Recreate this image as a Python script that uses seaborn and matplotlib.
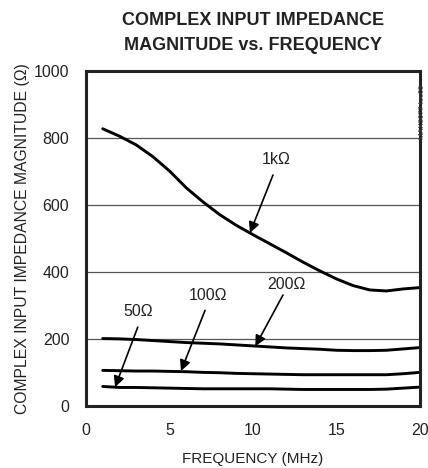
import pandas as pd
import matplotlib
matplotlib.use('Agg')
import matplotlib.pyplot as plt
import seaborn as sns

freq = list(range(1, 21))
z_1k = [828, 806, 780, 745, 702, 652, 610, 572, 540, 512,
        485, 458, 430, 404, 380, 360, 347, 344, 350, 354]
z_200 = [202, 201, 199, 196, 193, 190, 188, 186, 183, 180,
         177, 174, 172, 170, 167, 166, 166, 167, 171, 175]
z_100 = [107, 106, 105, 105, 104, 103, 101, 100, 98, 97,
         96, 95, 94, 94, 94, 94, 94, 94, 97, 101]
z_50 = [59, 56, 56, 55, 54, 53, 52, 52, 52, 52,
        52, 51, 50, 50, 50, 50, 50, 51, 54, 57]

labels = ['1kΩ', '200Ω', '100Ω', '50Ω']
# label position, arrow start, arrow tip (data coords)
label_pos = [(11.4, 735), (12.0, 362), (7.33, 329), (3.13, 282)]
arrow_from = [(11.2, 690), (11.8, 332), (7.13, 286), (3.1, 236)]
arrow_to = [(9.82, 517), (10.14, 179), (5.69, 105), (1.74, 57)]

rows = []
for name, vals in zip(labels, [z_1k, z_200, z_100, z_50]):
    for f, v in zip(freq, vals):
        rows.append({'freq': f, 'z': v, 'load': name})
df = pd.DataFrame(rows)

sns.set_style('white')
plt.rcParams['font.family'] = ['Liberation Sans', 'DejaVu Sans']

fig = plt.figure(figsize=(4.28, 4.68), dpi=100)
ax = fig.add_axes([0.201, 0.132, 0.78, 0.716])

sns.lineplot(data=df, x='freq', y='z', units='load', estimator=None,
             color='black', linewidth=2.1, ax=ax)

ax.set_xlim(0, 20)
ax.set_ylim(0, 1000)
ax.set_xticks([0, 5, 10, 15, 20])
ax.set_yticks([0, 200, 400, 600, 800, 1000])
for y in [200, 400, 600, 800]:
    ax.axhline(y, color='#555555', linewidth=0.9, zorder=0)
ax.tick_params(length=0, labelsize=11.5, colors='#222222')
ax.tick_params(axis='y', pad=12)
ax.tick_params(axis='x', pad=12)
for s in ax.spines.values():
    s.set_visible(True)
    s.set_color('#222222')
    s.set_linewidth(2.2)

ax.set_xlabel('FREQUENCY (MHz)', fontsize=11, color='#222222', labelpad=10)
ax.set_ylabel('COMPLEX INPUT IMPEDANCE MAGNITUDE (Ω)', fontsize=11.3,
              color='#222222', labelpad=3)

for lab, p, a0, a1 in zip(labels, label_pos, arrow_from, arrow_to):
    ax.text(p[0], p[1], lab, ha='center', va='center', fontsize=11.5, color='#222222')
    ax.annotate('', xy=a1, xytext=a0,
                arrowprops=dict(arrowstyle='-|>', color='black', lw=1.2,
                                mutation_scale=16, shrinkA=0, shrinkB=0))

fig.text(253 / 428, 1 - 12 / 468, 'COMPLEX INPUT IMPEDANCE\nMAGNITUDE vs. FREQUENCY',
         ha='center', va='top', fontsize=13, fontweight='bold',
         color='#222222', linespacing=1.65)
fig.text(423 / 428, 1 - 112 / 468, 'MAX9077 toc09', rotation=90, fontsize=5.5,
         ha='center', va='center', color='#444444')

fig.savefig('out.png', dpi=100)
